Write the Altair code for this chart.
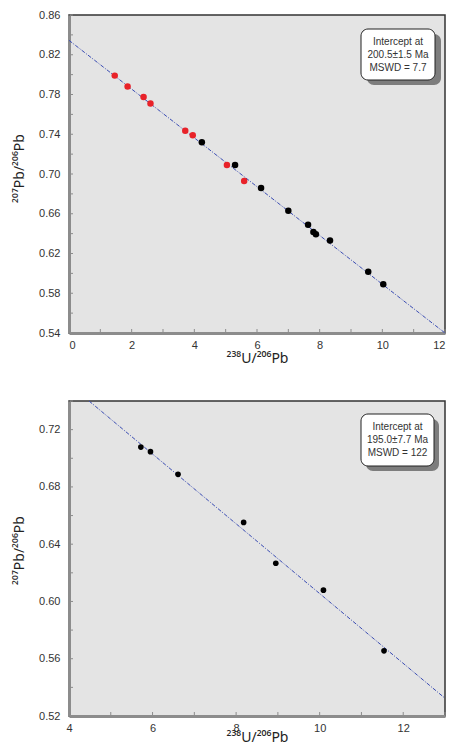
import altair as alt
import pandas as pd

# ---------------- data ----------------
# Top panel
top_red_x = [1.46, 1.87, 2.38, 2.60, 3.71, 3.95, 5.04, 5.59]
top_red_y = [0.799, 0.788, 0.7775, 0.771, 0.7436, 0.739, 0.709, 0.693]
top_black_x = [4.24, 5.30, 6.13, 7.00, 7.63, 7.80, 7.88, 8.33, 9.55, 10.03]
top_black_y = [0.732, 0.709, 0.686, 0.663, 0.649, 0.6416, 0.6393, 0.633, 0.6017, 0.589]
top_line_x = [0, 12]
top_line_y = [0.8345, 0.5400]
top_x_labels = [0, 2, 4, 6, 8, 10, 12]
top_y_labels = [0.54, 0.58, 0.62, 0.66, 0.70, 0.74, 0.78, 0.82, 0.86]
top_x_minor = [0, 1, 2, 3, 4, 5, 6, 7, 8, 9, 10, 11, 12]
top_y_minor = [0.54, 0.56, 0.58, 0.60, 0.62, 0.64, 0.66, 0.68, 0.70, 0.72, 0.74,
               0.76, 0.78, 0.80, 0.82, 0.84, 0.86]
top_text = "Intercept at\n200.5±1.5 Ma\nMSWD = 7.7"

# Bottom panel
bot_x = [5.72, 5.95, 6.61, 8.18, 8.95, 10.09, 11.54]
bot_y = [0.7078, 0.7046, 0.6888, 0.6552, 0.6267, 0.6079, 0.5655]
bot_line_x = [4.48, 13]
bot_line_y = [0.74, 0.5324]
bot_x_labels = [4, 6, 8, 10, 12]
bot_y_labels = [0.52, 0.56, 0.60, 0.64, 0.68, 0.72]
bot_x_minor = [4, 5, 6, 7, 8, 9, 10, 11, 12, 13]
bot_y_minor = [0.52, 0.54, 0.56, 0.58, 0.60, 0.62, 0.64, 0.66, 0.68, 0.70, 0.72, 0.74]
bot_text = "Intercept at\n195.0±7.7 Ma\nMSWD = 122"

X_TITLE = "²³⁸U/²⁰⁶Pb"
Y_TITLE = "²⁰⁷Pb/²⁰⁶Pb"
FONT = "Liberation Sans"
TFONT = "Noto Sans"


def panel(px, py, pcol, lx, ly, xdom, ydom, xlab, ylab, xmin, ymin, text,
          W, H, box, size, xlp, xtp, flush, ty):
    xs = alt.Scale(domain=xdom, nice=False, zero=False)
    ys = alt.Scale(domain=ydom, nice=False, zero=False)
    pts = pd.DataFrame({"x": px, "y": py, "c": pcol})
    line = pd.DataFrame({"x": lx, "y": ly})

    base_line = alt.Chart(line).mark_line(
        color="#3b4db3", strokeWidth=1, strokeDash=[4, 1.5, 1, 1.5]
    ).encode(
        x=alt.X("x:Q", scale=xs, title=X_TITLE,
                axis=alt.Axis(values=xlab, tickCount=30, format="d",
                              labelPadding=xlp, titlePadding=xtp,
                              labelOverlap=False, labelFlush=flush)),
        y=alt.Y("y:Q", scale=ys, title=Y_TITLE,
                axis=alt.Axis(values=ylab, tickCount=30, format=".2f",
                              labelPadding=9, titlePadding=12.5, titleY=ty,
                              labelOverlap=False, labelFlush=False)),
    )
    points = alt.Chart(pts).mark_circle(size=size, opacity=1).encode(
        x=alt.X("x:Q", scale=xs),
        y=alt.Y("y:Q", scale=ys),
        color=alt.Color("c:N", scale=alt.Scale(domain=["red", "black"],
                                               range=["#e82229", "#000000"]),
                        legend=None),
    )
    yt = alt.Chart(pd.DataFrame({"y": ymin})).mark_rule(
        color="#8c8c8c", strokeWidth=1).encode(
        y=alt.Y("y:Q", scale=ys), x=alt.value(1), x2=alt.value(4))
    xt = alt.Chart(pd.DataFrame({"x": xmin})).mark_rule(
        color="#8c8c8c", strokeWidth=1).encode(
        x=alt.X("x:Q", scale=xs), y=alt.value(H - 1), y2=alt.value(H - 4))

    bx0, by0, bx1, by1, sdx, sdy = box
    one = pd.DataFrame({"a": [0]})
    shadow = alt.Chart(one).mark_rect(
        fill="#7d7d7d", cornerRadius=7).encode(
        x=alt.value(bx0 + sdx), x2=alt.value(bx1 + sdx),
        y=alt.value(by0 + sdy), y2=alt.value(by1 + sdy))
    rect = alt.Chart(one).mark_rect(
        fill="white", stroke="#222222", strokeWidth=1, cornerRadius=7).encode(
        x=alt.value(bx0), x2=alt.value(bx1),
        y=alt.value(by0), y2=alt.value(by1))
    label = alt.Chart(one).mark_text(
        font=FONT, fontSize=10, color="#333333", lineBreak="\n",
        lineHeight=13, align="center", baseline="middle").encode(
        x=alt.value((bx0 + bx1) / 2), y=alt.value(by0 + 13),
        text=alt.value(text))

    return alt.layer(base_line, yt, xt, points, shadow, rect, label).properties(
        width=W, height=H)


top = panel(top_red_x + top_black_x, top_red_y + top_black_y,
            ["red"] * len(top_red_x) + ["black"] * len(top_black_x),
            top_line_x, top_line_y, [0, 12], [0.54, 0.86],
            top_x_labels, top_y_labels, top_x_minor, top_y_minor, top_text,
            376, 318, (292, 14, 366, 65, 6, 5), 42, 6, 1, True, 153)

bottom = panel(bot_x, bot_y, ["black"] * len(bot_x),
               bot_line_x, bot_line_y, [4, 13], [0.52, 0.74],
               bot_x_labels, bot_y_labels, bot_x_minor, bot_y_minor, bot_text,
               376, 315, (292, 13, 365, 65, 5, 5), 32, 6, -3, False, 149)

chart = alt.vconcat(top, bottom, spacing=32).properties(
    padding={"left": 3, "top": 0, "right": 0, "bottom": 0},
    background="white",
).configure_view(
    fill="#e4e4e4", stroke="#333333", strokeWidth=1.5
).configure_axis(
    domainColor="#8c8c8c", domainWidth=3, ticks=False, tickSize=0, grid=False,
    labelFont=FONT, labelFontSize=11, labelColor="#333333",
    titleFont=TFONT, titleFontSize=14, titleFontWeight="normal",
    titleColor="#222222", labelOverlap=False,
)

chart.save("out.html", embed_options={"renderer": "svg", "actions": False})
